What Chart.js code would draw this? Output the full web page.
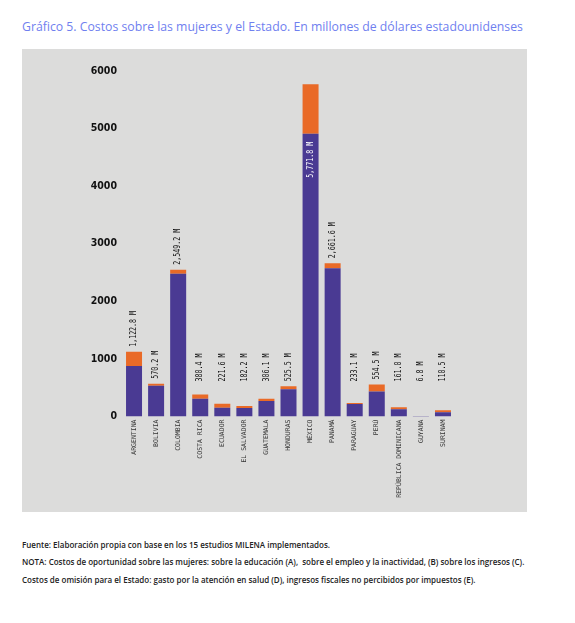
<!DOCTYPE html>
<html lang="es">
<head>
<meta charset="utf-8">
<script src="https://cdn.jsdelivr.net/npm/chart.js@4/dist/chart.umd.min.js"></script>
<style>
  body { margin: 0; background: #fff; width: 575px; height: 623px; position: relative; font-family: "Open Sans", Lato, sans-serif; }
  .titulo { position: absolute; left: 22px; top: 18px; font-size: 12.25px; color: #6f80ef; white-space: nowrap; }
  .panel { position: absolute; left: 22px; top: 49px; width: 505px; height: 463px; background: #dcdcdb; }
  .nota { position: absolute; left: 22px; font-size: 8px; font-weight: 600; color: #222; white-space: nowrap; }
</style>
</head>
<body>
<div class="titulo">Gráfico 5. Costos sobre las mujeres y el Estado. En millones de dólares estadounidenses</div>
<div class="panel"><canvas id="graficoCostos" width="505" height="463"></canvas></div>
<div class="nota" style="top:539px">Fuente: Elaboración propia con base en los 15 estudios MILENA implementados.</div>
<div class="nota" style="top:556px">NOTA: Costos de oportunidad sobre las mujeres: sobre la educación (A),&nbsp; sobre el empleo y la inactividad, (B) sobre los ingresos (C).</div>
<div class="nota" style="top:574px">Costos de omisión para el Estado: gasto por la atención en salud (D), ingresos fiscales no percibidos por impuestos (E).</div>

<script>
// datos
const paises = ['ARGENTINA', 'BOLIVIA', 'COLOMBIA', 'COSTA RICA', 'ECUADOR', 'EL SALVADOR', 'GUATEMALA',
    'HONDURAS', 'MÉXICO', 'PANAMÁ', 'PARAGUAY', 'PERÚ', 'REPÚBLICA DOMINICANA', 'GUYANA', 'SURINAM'];
const costosMujeres = [877.0, 535.0, 2479.0, 310.4, 151.6, 147.2, 271.1, 473.5, 4910.0, 2574.6, 216.1, 433.5, 126.0, 6.8, 75.5];
const costosEstado = [245.8, 35.2, 70.2, 70.0, 70.0, 35.0, 35.0, 52.0, 861.8, 87.0, 17.0, 121.0, 35.0, 0, 35.0];
const ticksY = [0, 1000, 2000, 3000, 4000, 5000, 6000];

const MORADO = '#4a3a93';
const NARANJA = '#e96a27';

// etiquetas de totales, verticales sobre cada barra
const etiquetasTotales = {
    id: 'etiquetasTotales',
    afterDatasetsDraw(chart) {
        const ctx = chart.ctx;
        const x = chart.scales.x, y = chart.scales.y;
        const cero = y.getPixelForValue(0);
        ctx.save();
        ctx.font = '8.5px "DejaVu Sans Mono", monospace';
        ctx.textBaseline = 'middle';
        paises.forEach((p, i) => {
            const total = costosMujeres[i] + costosEstado[i];
            const txt = total.toLocaleString('en-US', { minimumFractionDigits: 1, maximumFractionDigits: 1 }) + ' M';
            const px = x.getPixelForValue(i);
            const topPx = y.getPixelForValue(total);
            const largo = ctx.measureText(txt).width * 0.78;
            let inicio, color = '#111';
            if (topPx - 5 - largo < chart.chartArea.top) {
                // no cabe arriba: va dentro de la barra
                inicio = y.getPixelForValue(costosMujeres[i]) + 8 + largo;
                color = '#fff';
            } else {
                inicio = Math.min(topPx - 5, cero - 35);
            }
            ctx.save();
            ctx.translate(px, inicio);
            ctx.rotate(-Math.PI / 2);
            ctx.scale(0.78, 1);
            ctx.fillStyle = color;
            ctx.textAlign = 'left';
            ctx.fillText(txt, 0, 0);
            ctx.restore();
        });
        ctx.restore();
    }
};

const ctx1 = document.getElementById('graficoCostos');
new Chart(ctx1.getContext('2d'), {
    type: 'bar',
    data: {
        labels: paises,
        datasets: [{
            label: 'Costos sobre las mujeres',
            data: costosMujeres,
            backgroundColor: MORADO,
            borderWidth: 0,
            categoryPercentage: 1,
            barPercentage: 0.725
        }, {
            label: 'Costos para el Estado',
            data: costosEstado,
            backgroundColor: NARANJA,
            borderWidth: 0,
            categoryPercentage: 1,
            barPercentage: 0.725
        }]
    },
    options: {
        responsive: false,
        animation: false,
        layout: { padding: { top: 22, right: 73, bottom: 0, left: 0 } },
        plugins: {
            legend: { display: false },
            tooltip: { enabled: false }
        },
        scales: {
            x: {
                stacked: true,
                grid: { display: false, drawTicks: false },
                border: { display: false },
                afterFit: s => { s.height = 95.5; },
                ticks: {
                    autoSkip: false,
                    maxRotation: 90,
                    minRotation: 90,
                    padding: 3,
                    color: '#333',
                    font: { family: '"DejaVu Sans Mono", monospace', size: 6.5 }
                }
            },
            y: {
                stacked: true,
                min: 0,
                max: 6000,
                grid: { display: false, drawTicks: false },
                border: { display: false },
                afterFit: s => { s.width = 101; },
                afterBuildTicks: s => { s.ticks = ticksY.map(v => ({ value: v })); },
                ticks: {
                    padding: 6,
                    color: '#111',
                    callback: v => String(v),
                    font: { family: '"DejaVu Sans Condensed", sans-serif', size: 10.5, weight: 'bold' }
                }
            }
        }
    },
    plugins: [etiquetasTotales]
});
</script>
</body>
</html>
